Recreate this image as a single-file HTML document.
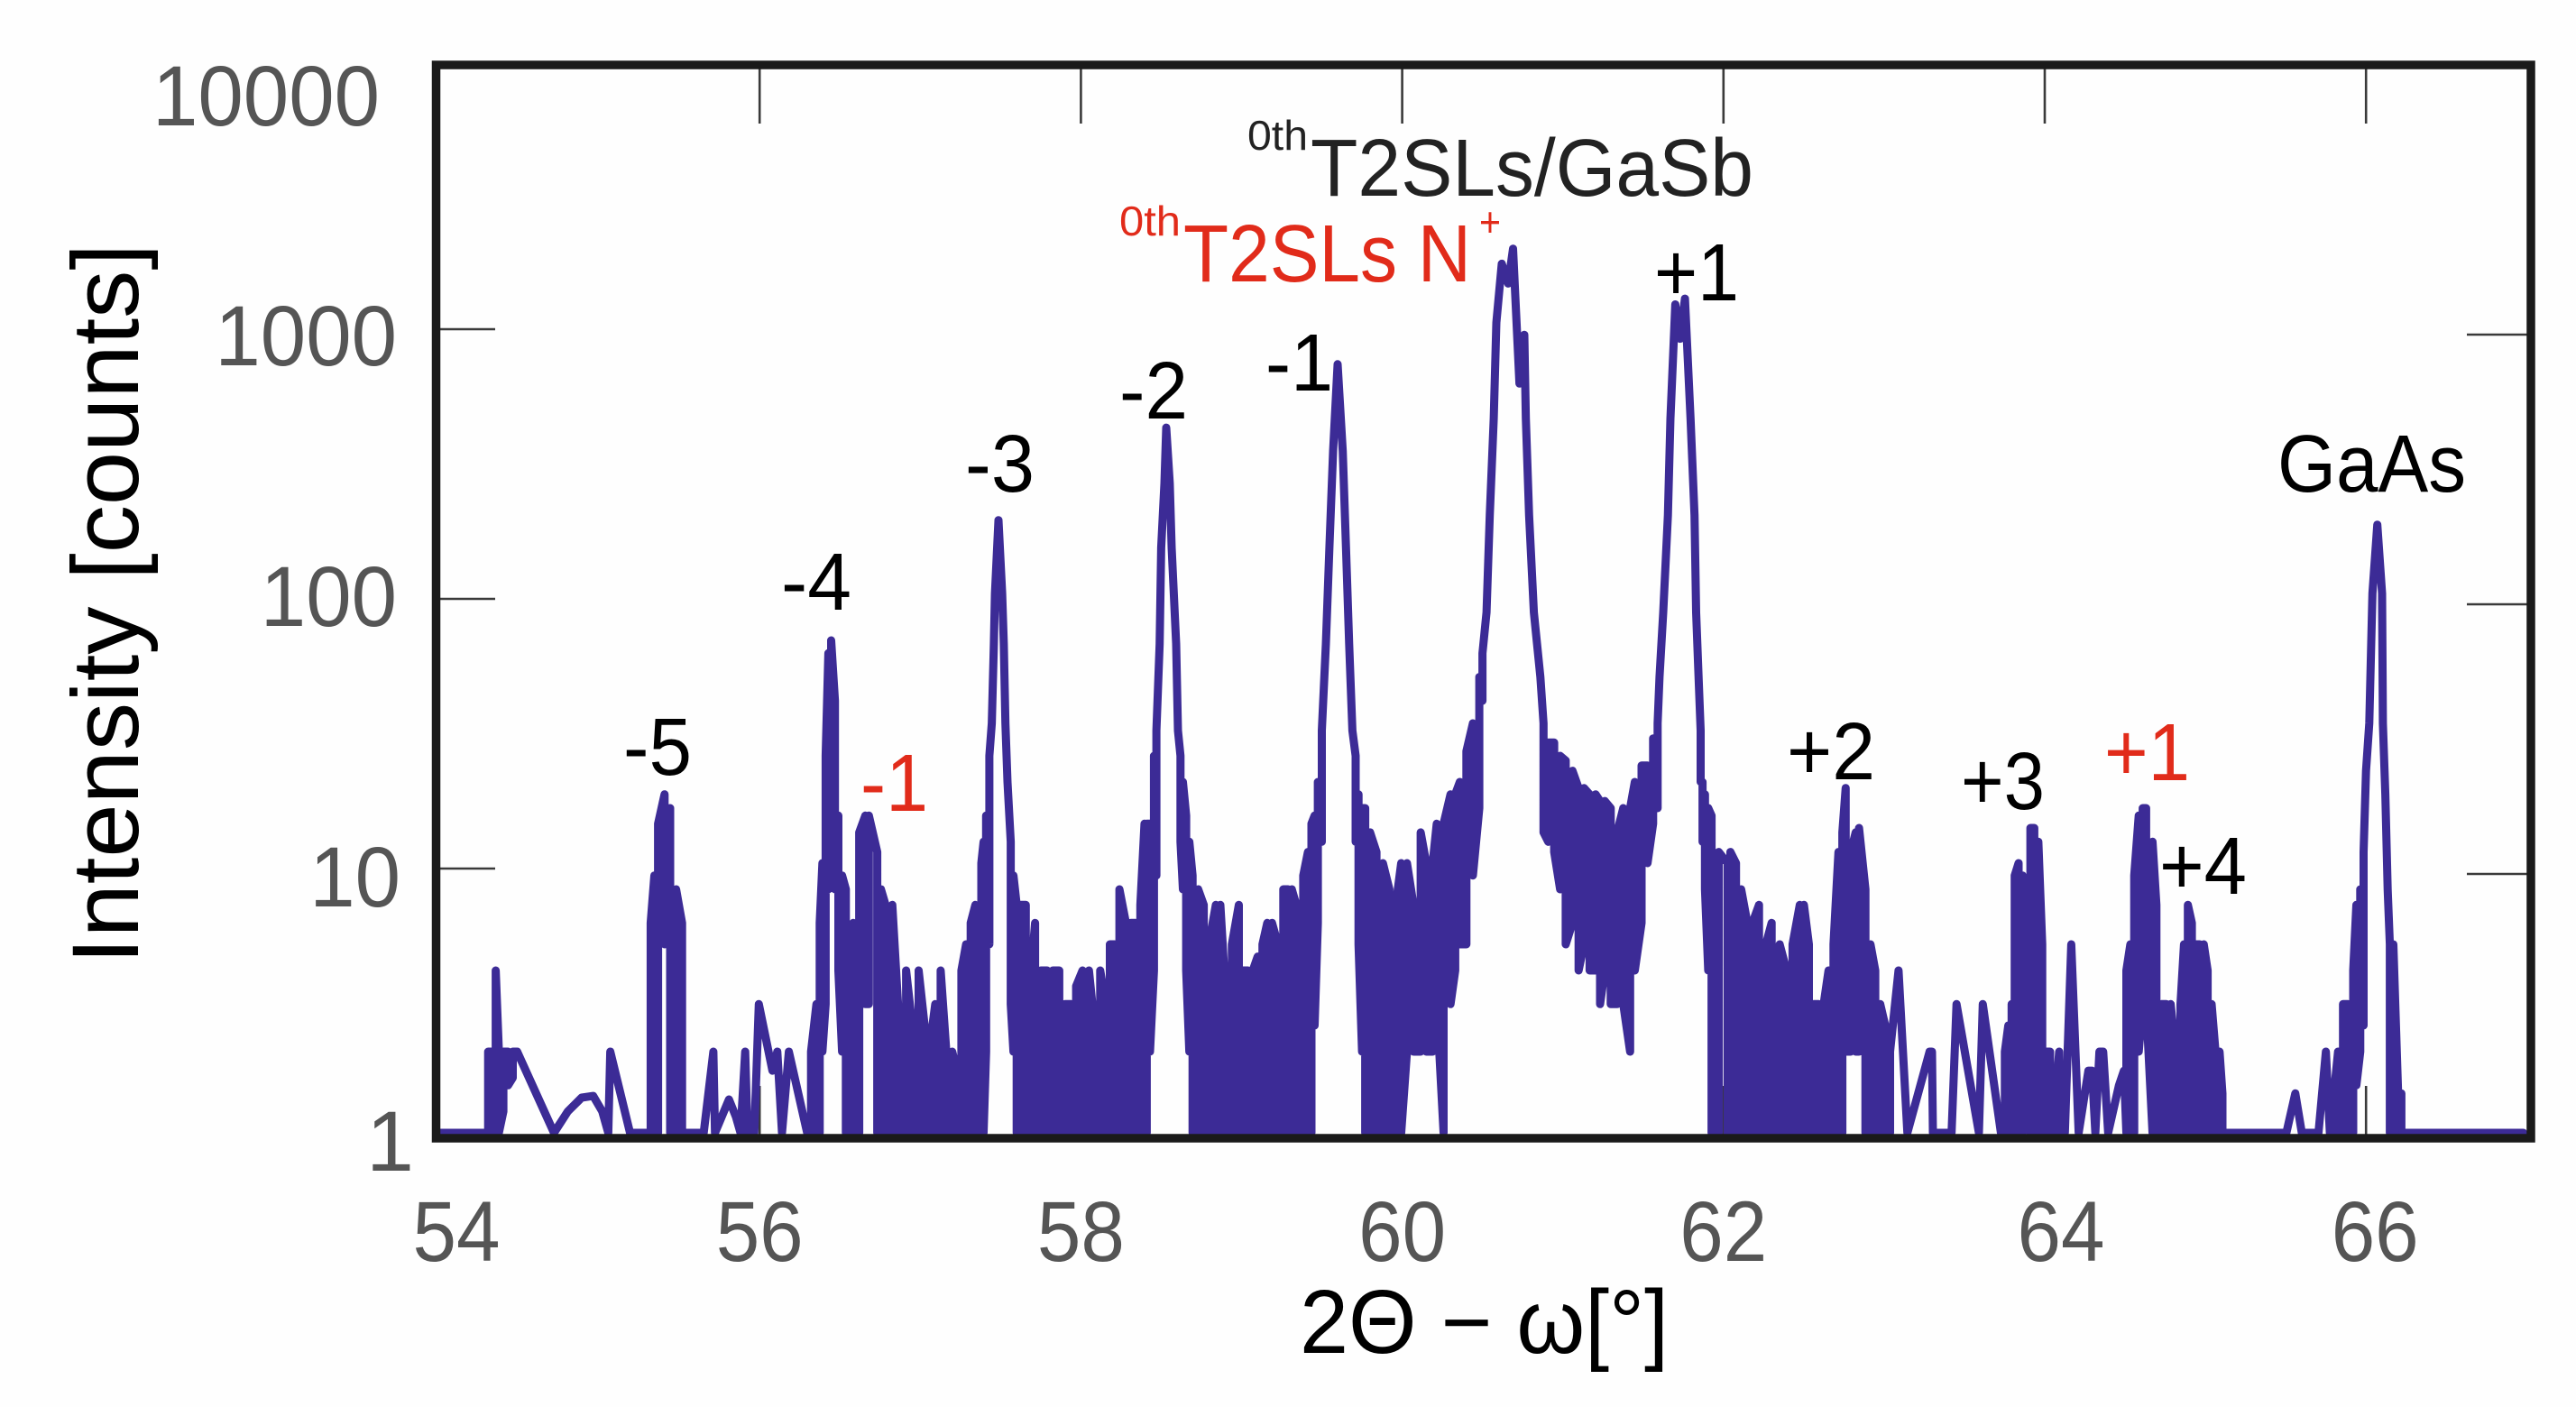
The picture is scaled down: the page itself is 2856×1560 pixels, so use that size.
<!DOCTYPE html>
<html>
<head>
<meta charset="utf-8">
<title>XRD intensity chart</title>
<style>
html,body{margin:0;padding:0;background:#fefefe;}
svg{display:block;}
text{font-family:"Liberation Sans",sans-serif;}
</style>
</head>
<body>
<svg id="chart" xmlns="http://www.w3.org/2000/svg" width="2856" height="1560" viewBox="0 0 2856 1560">
  <rect x="0" y="0" width="2856" height="1560" fill="#fefefe"/>
  <g id="ticks"></g>
  <path id="trace" fill="none" stroke="#3c2b96" stroke-width="9" stroke-linejoin="round" stroke-linecap="round"/>
  <rect x="483.5" y="72" width="2322.5" height="1190" fill="none" stroke="#1a1a1a" stroke-width="9.5"/>
  <g id="tick-labels" fill="#555555" font-size="95"></g>

  <text transform="translate(153,1069) rotate(-90)" font-size="105" textLength="799" lengthAdjust="spacingAndGlyphs" fill="#000">Intensity [counts]</text>
  <text x="1441" y="1500" font-size="100" textLength="409" lengthAdjust="spacingAndGlyphs" fill="#000">2Θ − ω[°]</text>

  <g font-size="90" fill="#000">
    <text x="691" y="859" textLength="76" lengthAdjust="spacingAndGlyphs">-5</text>
    <text x="866" y="676" textLength="78" lengthAdjust="spacingAndGlyphs">-4</text>
    <text x="1070" y="545" textLength="77" lengthAdjust="spacingAndGlyphs">-3</text>
    <text x="1241" y="464" textLength="76" lengthAdjust="spacingAndGlyphs">-2</text>
    <text x="1403" y="433" textLength="75" lengthAdjust="spacingAndGlyphs">-1</text>
    <text x="1834" y="333" textLength="94" lengthAdjust="spacingAndGlyphs">+1</text>
    <text x="1981" y="864" textLength="98" lengthAdjust="spacingAndGlyphs">+2</text>
    <text x="2174" y="897" textLength="93" lengthAdjust="spacingAndGlyphs">+3</text>
    <text x="2394" y="991" textLength="97" lengthAdjust="spacingAndGlyphs">+4</text>
    <text x="2525" y="545" textLength="209" lengthAdjust="spacingAndGlyphs">GaAs</text>
    <text x="1383" y="166" font-size="46" textLength="67" lengthAdjust="spacingAndGlyphs" fill="#222">0th</text>
    <text x="1453" y="217" textLength="491" lengthAdjust="spacingAndGlyphs" fill="#222">T2SLs/GaSb</text>
  </g>
  <g font-size="90" fill="#e12b1a">
    <text x="1241" y="261" font-size="46" textLength="68" lengthAdjust="spacingAndGlyphs">0th</text>
    <text x="1312" y="312" textLength="319" lengthAdjust="spacingAndGlyphs">T2SLs N</text>
    <text x="1640" y="262" font-size="46" textLength="24" lengthAdjust="spacingAndGlyphs">+</text>
    <text x="954" y="899" textLength="75" lengthAdjust="spacingAndGlyphs">-1</text>
    <text x="2333" y="865" textLength="95" lengthAdjust="spacingAndGlyphs">+1</text>
  </g>
</svg>

<script>
const xTicks = [54, 56, 58, 60, 62, 64, 66];
const yTicks = [1, 10, 100, 1000, 10000];

const angles = [
54.0,54.29,54.31,54.337,54.357,54.377,54.405,54.434,54.463,54.491,
54.72,54.806,54.892,54.964,55.02,55.058,55.07,55.193,55.308,55.322,
55.345,55.368,55.408,55.443,55.48,55.517,55.54,55.652,55.712,55.722,
55.809,55.852,55.881,55.91,55.925,55.967,55.995,56.08,56.11,56.139,
56.182,56.296,56.32,56.354,56.374,56.391,56.411,56.428,56.445,56.469,
56.49,56.513,56.537,56.56,56.583,56.62,56.658,56.68,56.732,56.755,
56.784,56.826,56.869,56.912,56.95,56.99,57.027,57.064,57.093,57.127,
57.162,57.199,57.228,57.256,57.285,57.314,57.343,57.38,57.394,57.41,
57.43,57.445,57.458,57.465,57.487,57.51,57.52,57.53,57.543,57.563,57.58,57.60,
57.625,57.657,57.69,57.715,57.75,57.79,57.825,57.865,57.90,57.94,
57.97,58.01,58.05,58.085,58.12,58.155,58.18,58.21,58.24,58.28,
58.31,58.34,58.37,58.396,58.41,58.43,58.455,58.47,58.49,58.50,58.52,
58.531,58.553,58.565,58.593,58.604,58.62,58.635,58.655,58.675,58.695,58.73,58.765,
58.796,58.84,58.868,58.892,58.94,58.983,59.01,59.04,59.07,59.10,
59.13,59.16,59.19,59.227,59.26,59.29,59.313,59.341,59.384,59.413,
59.435,59.455,59.475,59.50,59.525,59.547,59.57,59.598,59.63,59.65,59.67,59.69,
59.71,59.728,59.75,59.77,59.80,59.84,59.88,59.92,59.96,59.994,
60.03,60.07,60.115,60.15,60.19,60.215,60.258,60.301,60.33,60.359,
60.40,60.44,60.48,60.50,60.525,60.545,60.57,60.586,60.62,60.66,60.69,60.73,60.76,
60.77,60.79,60.82,60.86,60.88,60.909,60.946,60.983,61.018,61.06,
61.098,61.132,61.167,61.204,61.232,61.261,61.298,61.338,61.376,61.419,
61.448,61.49,61.527,61.562,61.59,61.602,61.625,61.654,61.67,61.70,
61.73,61.76,61.795,61.82,61.83,61.845,61.858,61.87,61.885,61.905,61.926,
61.97,62.025,62.043,62.078,62.11,62.149,62.18,62.221,62.264,62.30,
62.35,62.393,62.43,62.475,62.501,62.532,62.562,62.593,62.624,62.654,
62.685,62.716,62.74,62.761,62.792,62.823,62.844,62.884,62.915,62.945,
62.976,63.007,63.037,63.09,63.145,63.283,63.298,63.304,63.42,63.451,
63.59,63.614,63.727,63.752,63.773,63.794,63.813,63.837,63.862,63.886,
63.911,63.935,63.96,63.984,64.009,64.033,64.064,64.09,64.125,64.165,
64.211,64.272,64.294,64.315,64.34,64.364,64.395,64.462,64.493,64.508,
64.533,64.557,64.585,64.61,64.631,64.671,64.695,64.726,64.757,64.784,
64.815,64.845,64.867,64.891,64.916,64.94,64.965,64.99,65.014,65.039,
65.063,65.088,65.106,65.12,65.504,65.56,65.6,65.704,65.75,65.775,
65.805,65.826,65.857,65.888,65.92,65.94,65.964,65.985,66.00,66.02,
66.04,66.07,66.10,66.105,66.12,66.135,66.148,66.17,66.2,66.22,
66.24,66.98
];

const maxCounts = [
1,1,2,2,4,2,2,2,2,2,
1,1.2,1.35,1.37,1.2,1,2,1,1,6,
9,14,18,16,8,6,1,1,2,1,
1.33,1.15,1,2,1,1,3,1.7,2,1,
2,1,2,3,6,10,25,60,67,40,
15,9,8,5,6,13,15,15,11,8,
7,7,2.5,4,2.5,4,2.5,2.2,3,4,
2,2,1.7,4,5,6,7,10,12,15,
25,33,65,100,187,100,65,33,20,12,9,7,
7,7,4,6,4,4,4,4,3,3,
3.5,4,4,2.5,4,3,5,5,8,6,
6,6,7,14,14,14,25,31,65,148,256,
412,256,148,65,31,25,20,15,12,9,8,7,
5,7,7,4,5,7,4,4,4,4.5,
5,6,6,5,8,8,8,7,9,11,
14,15,20,31,65,148,337,708,337,148,65,31,
25,18,16,16,13,11,10,8,7,10,
10,7,13,10,10,14,14,18,18,20,
26,33,49,60,85,195,445,1010,1670,1410,1900,600,910,
445,195,85,49,33,28,28,25,24,22,
19,19,18,18,17,17,16,13,16,16,
20,23,23,29,33,49,85,195,445,1180,
880,1240,445,195,85,49,31,20,18,16,15,
11,10,11,10,8,6,6,7,5,6,
5,4,5,7,7,5,3,3,3,4,
5,11,13,19,11,13,13.5,8,5,4,
3,2.5,2,4,1,2,2,1,1,3,
1,3,1,2,2.5,3,9,10,9,8,
13.5,13.5,12,5,2,2,1.3,2,1,5,
1,1.7,1.7,1,2,2,1,1.5,1.7,4,
5,9,15,16,16,12,7,3,3,3,
2,3,5,7,6,5,5,5,4,3,
2,2,1.4,1,1,1.4,1,1,2,1,
1.5,2,3,3,4,7,8,11,22,33,
100,180,100,33,18,8,5,5,1.4,1.4,
1,1
];

const minCounts = [
1,1,1,1,1,1,1.2,1.5,1.6,2,
1,1.2,1.35,1.37,1.2,1,2,1,1,1,
1,1,5,1,1,1,1,1,2,1,
1.33,1.15,1,2,1,1,3,1.7,2,1,
2,1,1,1,1,2,3,8,40,8,
4,2,1,1,1,1,3,3,1,1,
1,1,1,1,1,1,1,1,1,1,
1,1,1,1,1,1,1,1,1,2,
5,33,65,100,187,100,65,33,20,3,2,1,
1,1,1,1,1,1,1,1,1,1,
1,1,1,1,1,1,1,1,1,1,
1,1,1,1,1,2,4,9,65,148,256,
412,256,148,65,31,12,8,4,2,1,1,1,
1,1,1,1,1,1,1,1,1,1,
1,1,1,1,1,1,1,1,1,1,
1,2.5,6,12,65,148,337,708,337,148,65,31,
12,5,2,1,1,1,1,1,1,1,
2,2,2,2,2,3,1,3,4,5,
5,9,16,40,85,195,445,1010,1670,1410,1900,600,910,
445,195,85,49,13,12,11,8,5,6,
4,5,4,4,3,4,3,3,3,2,
4,6,10,14,16,49,85,195,445,1180,
880,1240,445,195,85,49,20,12,8,4,1,
1,1,1,1,1,1,1,1,1,1,
1,1,1,1,1,1,1,1,1,1,
1,1,1,2,2,2,2,1,1,1,
1,1,1,4,1,2,2,1,1,3,
1,3,1,1,1,1,1,1,1,2,
1,1,1,1,1,1,1,1,1,5,
1,1.7,1.7,1,2,2,1,1.5,1.7,1,
1,1,2,3,3,1,1,1,1,1,
1,1,1,1,1,1,1,1,1,1,
1,1,1,1,1,1.4,1,1,2,1,
1,1,1,1,1,1.5,2,2.5,22,33,
100,180,100,33,18,8,1,1,1,1,
1,1
];

const NS = 'http://www.w3.org/2000/svg';
const xPerUnit = 178.1;
const yPerDecade = 299;
const traceLift = 6;

function xScale(angle) { return 486 + (angle - 54) * xPerUnit; }
function yScale(count) { return 1262 - Math.log10(count) * yPerDecade; }
function xLabelNudge(t) { return t === 54 ? 20 : t === 64 ? 18 : t === 66 ? 10 : 0; }
function yLabelDrop(t) { return t === 10000 ? 73 : t === 1000 ? 40 : t === 100 ? 30 : t === 10 ? 42 : 36; }
function yLabelRight(t) { return t === 10000 ? 421 : t === 10 ? 444 : t === 1 ? 459 : 440; }

function buildTrace() {
  const pts = [];
  let prev = minCounts[0];
  for (let i = 0; i < angles.length; i++) {
    const lo = minCounts[i];
    const hi = maxCounts[i];
    if (lo === hi) { pts.push([angles[i], lo]); prev = lo; continue; }
    let exit;
    const nextIsPoint = i + 1 < angles.length && minCounts[i + 1] === maxCounts[i + 1];
    if (nextIsPoint) {
      const target = Math.log10(minCounts[i + 1]);
      exit = Math.abs(Math.log10(hi) - target) < Math.abs(Math.log10(lo) - target) ? hi : lo;
    } else {
      const from = Math.log10(prev);
      const enter = Math.abs(Math.log10(hi) - from) < Math.abs(Math.log10(lo) - from) ? hi : lo;
      exit = enter === hi ? lo : hi;
    }
    const entry = exit === hi ? lo : hi;
    pts.push([angles[i], entry]);
    pts.push([angles[i], exit]);
    prev = exit;
  }
  return pts.map(function (p, i) {
    return (i ? 'L' : 'M') + xScale(p[0]).toFixed(1) + ' ' + (yScale(p[1]) - traceLift).toFixed(1);
  }).join('');
}
document.getElementById('trace').setAttribute('d', buildTrace());

const tickGroup = document.getElementById('ticks');
const labelGroup = document.getElementById('tick-labels');

function tickLine(x1, y1, x2, y2) {
  const el = document.createElementNS(NS, 'line');
  el.setAttribute('x1', x1);
  el.setAttribute('y1', y1);
  el.setAttribute('x2', x2);
  el.setAttribute('y2', y2);
  el.setAttribute('stroke', '#3a3a3a');
  el.setAttribute('stroke-width', '2.6');
  tickGroup.appendChild(el);
  return el;
}

xTicks.forEach(function (t) {
  const label = document.createElementNS(NS, 'text');
  
  
  label.setAttribute('x', xScale(t) + xLabelNudge(t));
  label.setAttribute('y', 1398);
  label.setAttribute('text-anchor', 'middle');
  label.setAttribute('textLength', '97');
  label.setAttribute('lengthAdjust', 'spacingAndGlyphs');
  label.textContent = String(t);
  labelGroup.appendChild(label);
  if (t === 54) return;
  const top = tickLine(xScale(t), 76, xScale(t), 137);
  
  
  const bottom = tickLine(xScale(t), 1204, xScale(t), 1260);
  
  
});

yTicks.forEach(function (t) {
  const text = String(t);
  const label = document.createElementNS(NS, 'text');
  
  
  label.setAttribute('x', yLabelRight(t));
  label.setAttribute('y', yScale(t) + yLabelDrop(t));
  label.setAttribute('text-anchor', 'end');
  if (text.length > 1) {
    label.setAttribute('textLength', String(text.length * 50.4));
    label.setAttribute('lengthAdjust', 'spacingAndGlyphs');
  }
  label.textContent = text;
  labelGroup.appendChild(label);
  if (t === 1 || t === 10000) return;
  const left = tickLine(486, yScale(t), 549, yScale(t));
  
  
  const right = tickLine(2735, yScale(t) + traceLift, 2802, yScale(t) + traceLift);
  
  
});
</script>
</body>
</html>
